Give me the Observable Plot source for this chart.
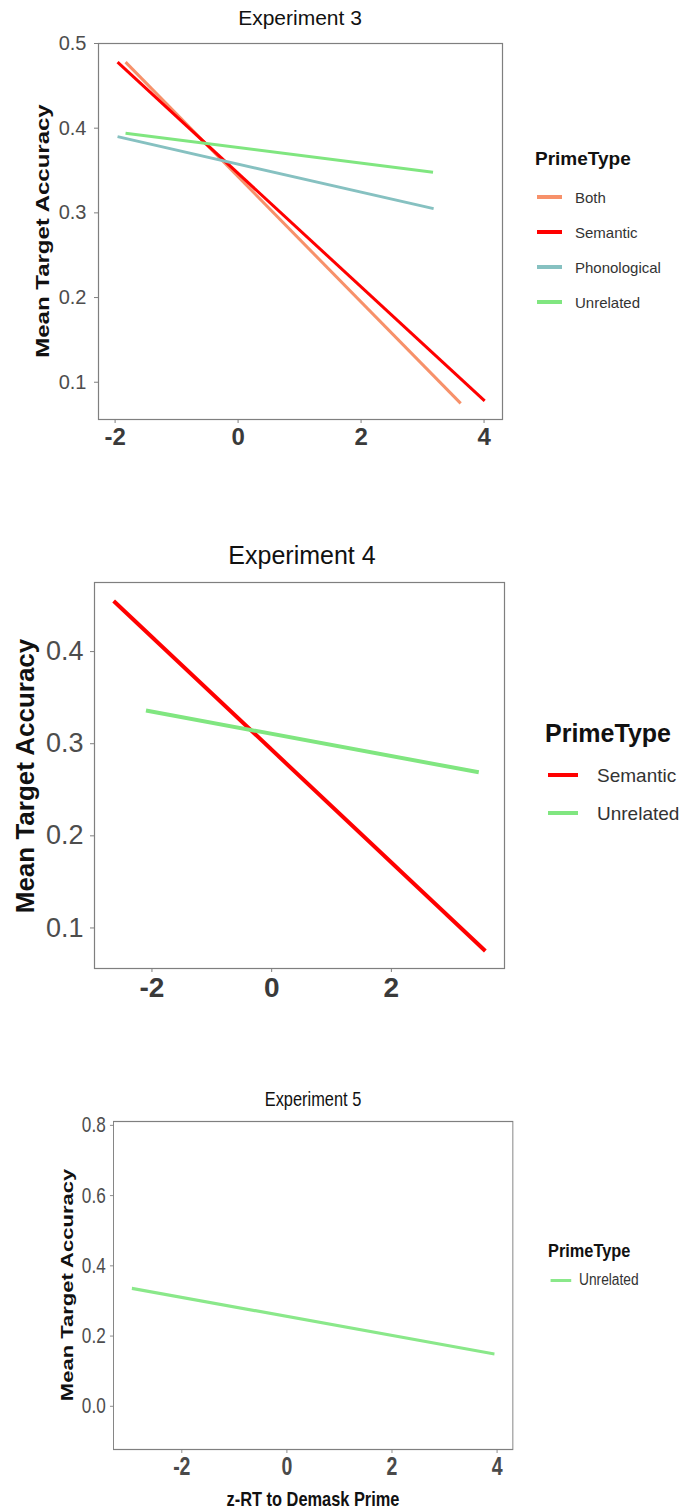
<!DOCTYPE html>
<html><head><meta charset="utf-8">
<script src="https://cdn.jsdelivr.net/npm/d3@7"></script>
<script src="https://cdn.jsdelivr.net/npm/@observablehq/plot@0.6"></script>
<style>
body{margin:0;background:#fff;font-family:"Liberation Sans",Arial,sans-serif;}
#root{position:relative;width:691px;height:1512px;overflow:hidden;background:#fff;}
.abs{position:absolute;white-space:nowrap;line-height:1;}
.panel{position:absolute;}
.panel svg{display:block;}
</style></head><body><div id="root"></div>
<script>
// ---------- Experiment 3 ----------
const exp3Types = ["Both", "Semantic", "Phonological", "Unrelated"];
const exp3Colors = ["#f7916a", "#ff0000", "#86c1c1", "#80e680"];
const exp3StartX = [-1.83, -1.96, -1.96, -1.83];
const exp3StartY = [0.478, 0.478, 0.390, 0.394];
const exp3EndX = [3.62, 4.01, 3.18, 3.17];
const exp3EndY = [0.075, 0.078, 0.305, 0.348];
const exp3XTicks = [-2, 0, 2, 4];
const exp3YTicks = [0.1, 0.2, 0.3, 0.4, 0.5];

// ---------- Experiment 4 ----------
const exp4Types = ["Semantic", "Unrelated"];
const exp4Colors = ["#ff0000", "#80e680"];
const exp4StartX = [-2.64, -2.10];
const exp4StartY = [0.455, 0.336];
const exp4EndX = [3.57, 3.46];
const exp4EndY = [0.075, 0.269];
const exp4XTicks = [-2, 0, 2];
const exp4YTicks = [0.1, 0.2, 0.3, 0.4];

// ---------- Experiment 5 ----------
const exp5Types = ["Unrelated"];
const exp5Colors = ["#8ae88a"];
const exp5StartX = [-2.95];
const exp5StartY = [0.336];
const exp5EndX = [3.95];
const exp5EndY = [0.149];
const exp5XTicks = [-2, 0, 2, 4];
const exp5YTicks = [0.0, 0.2, 0.4, 0.6, 0.8];

const yLabel = "Mean Target Accuracy";
const xLabel = "z-RT to Demask Prime";
const legendTitle = "PrimeType";

const root = document.getElementById("root");

function rows(types, sx, sy, ex, ey) {
  const out = [];
  types.forEach((t, i) => {
    out.push({type: t, x: sx[i], y: sy[i]});
    out.push({type: t, x: ex[i], y: ey[i]});
  });
  return out;
}

function makePlot(cfg) {
  return Plot.plot({
    width: cfg.width, height: cfg.height,
    marginLeft: cfg.ml, marginRight: cfg.mr, marginTop: cfg.mt, marginBottom: cfg.mb,
    style: {background: "transparent", overflow: "visible", fontFamily: "'Liberation Sans', Arial, sans-serif"},
    x: {domain: cfg.xDomain},
    y: {domain: cfg.yDomain},
    color: {domain: cfg.types, range: cfg.colors},
    marks: [
      Plot.frame({stroke: "#7f7f7f", strokeWidth: 1.2}),
      Plot.axisX({ticks: cfg.xTicks, tickFormat: d => String(d), label: null,
        tickSize: 4, tickPadding: cfg.xPad, stroke: "#7f7f7f",
        fontSize: cfg.xFont, fontWeight: "bold", fill: cfg.xFill}),
      Plot.axisY({ticks: cfg.yTicks, tickFormat: d3.format(".1f"), label: null,
        tickSize: 4, tickPadding: cfg.yPad, stroke: "#7f7f7f",
        fontSize: cfg.yFont, fill: "#4d4d4d"}),
      Plot.line(cfg.data, {x: "x", y: "y", z: "type", stroke: "type",
        strokeWidth: cfg.lw, strokeLinecap: "butt"})
    ]
  });
}

function addText(parent, txt, css) {
  const d = document.createElement("div");
  d.className = "abs";
  d.textContent = txt;
  Object.assign(d.style, css);
  parent.appendChild(d);
  return d;
}

function addLegend(parent, types, colors, o) {
  addText(parent, legendTitle, {left: o.x + "px", top: o.titleY + "px", fontSize: o.titleFont + "px",
    fontWeight: "bold", color: "#111", transform: "translateY(-50%)"});
  types.forEach((t, i) => {
    const cy = o.y0 + i * o.dy;
    const s = document.createElement("div");
    s.className = "abs";
    Object.assign(s.style, {left: o.sx + "px", top: (cy - o.lw / 2) + "px", width: o.sw + "px",
      height: o.lw + "px", background: colors[i]});
    parent.appendChild(s);
    addText(parent, t, {left: o.tx + "px", top: cy + "px", fontSize: o.font + "px", color: "#333",
      transform: "translateY(-50%)"});
  });
}

// Panel 1
{
  const p = document.createElement("div");
  p.className = "panel";
  Object.assign(p.style, {left: "0px", top: "0px"});
  p.appendChild(makePlot({
    width: 520, height: 465, ml: 98, mr: 18, mt: 43, mb: 46,
    xDomain: [-2.27, 4.30], yDomain: [0.056, 0.5],
    types: exp3Types, colors: exp3Colors, xTicks: exp3XTicks, yTicks: exp3YTicks,
    xFont: 24, xFill: "#3a3a3a", xPad: 4, yFont: 20, yPad: 8, lw: 3,
    data: rows(exp3Types, exp3StartX, exp3StartY, exp3EndX, exp3EndY)
  }));
  root.appendChild(p);
  addText(root, "Experiment 3", {left: "300px", top: "17px", fontSize: "21px", color: "#111",
    transform: "translate(-50%,-50%)"});
  addText(root, yLabel, {left: "43px", top: "231px", fontSize: "24px", fontWeight: "bold", color: "#111",
    transform: "translate(-50%,-50%) rotate(-90deg) scaleY(0.78)"});
  addLegend(root, exp3Types, exp3Colors, {x: 535, titleY: 158, titleFont: 19, y0: 197, dy: 35,
    sx: 537, sw: 25, lw: 3.5, tx: 575, font: 15});
}

// Panel 2
{
  const p = document.createElement("div");
  p.className = "panel";
  Object.assign(p.style, {left: "0px", top: "530px"});
  p.appendChild(makePlot({
    width: 520, height: 500, ml: 94, mr: 16, mt: 52, mb: 62,
    xDomain: [-2.96, 3.89], yDomain: [0.056, 0.475],
    types: exp4Types, colors: exp4Colors, xTicks: exp4XTicks, yTicks: exp4YTicks,
    xFont: 28, xFill: "#3a3a3a", xPad: 5, yFont: 27, yPad: 7, lw: 4,
    data: rows(exp4Types, exp4StartX, exp4StartY, exp4EndX, exp4EndY)
  }));
  root.appendChild(p);
  addText(root, "Experiment 4", {left: "302px", top: "555px", fontSize: "25px", color: "#111",
    transform: "translate(-50%,-50%)"});
  addText(root, yLabel, {left: "25px", top: "776px", fontSize: "26px", fontWeight: "bold", color: "#111",
    transform: "translate(-50%,-50%) rotate(-90deg)"});
  addLegend(root, exp4Types, exp4Colors, {x: 545, titleY: 733, titleFont: 25, y0: 775, dy: 38,
    sx: 548, sw: 30, lw: 4, tx: 597, font: 19});
}

// Panel 3 (horizontally condensed)
{
  const s = 0.78;
  const p = document.createElement("div");
  p.className = "panel";
  Object.assign(p.style, {left: "0px", top: "1080px", width: "700px", height: "432px",
    transform: "scaleX(" + s + ")", transformOrigin: "0 0"});
  p.appendChild(makePlot({
    width: 700, height: 432, ml: 145, mr: 43, mt: 41, mb: 63,
    xDomain: [-3.30, 4.30], yDomain: [-0.123, 0.811],
    types: exp5Types, colors: exp5Colors, xTicks: exp5XTicks, yTicks: exp5YTicks,
    xFont: 25, xFill: "#4a4a4a", xPad: 4, yFont: 22, yPad: 6, lw: 3.2,
    data: rows(exp5Types, exp5StartX, exp5StartY, exp5EndX, exp5EndY)
  }));
  root.appendChild(p);
  addText(p, "Experiment 5", {left: (313 / s) + "px", top: "18px", fontSize: "21px", color: "#111",
    transform: "translate(-50%,-50%)"});
  addText(p, xLabel, {left: (313 / s) + "px", top: "418px", fontSize: "21px", fontWeight: "bold", color: "#111",
    transform: "translate(-50%,-50%)"});
  addText(p, yLabel, {left: (67 / s) + "px", top: "205px", fontSize: "22px", fontWeight: "bold", color: "#111",
    transform: "translate(-50%,-50%) rotate(-90deg)"});
  const lg = document.createElement("div");
  lg.className = "panel";
  Object.assign(lg.style, {left: "0px", top: "0px", width: "691px", height: "1512px",
    transform: "scaleX(0.86)", transformOrigin: "548px 0"});
  root.appendChild(lg);
  addLegend(lg, exp5Types, exp5Colors, {x: 548, titleY: 1250, titleFont: 19, y0: 1280, dy: 30,
    sx: 551, sw: 24, lw: 3, tx: 584, font: 16});
}
</script>
</body></html>
